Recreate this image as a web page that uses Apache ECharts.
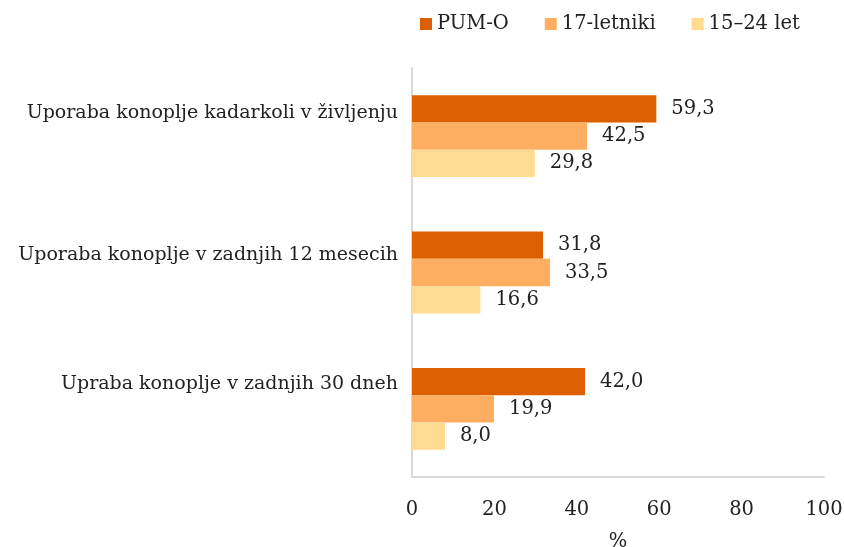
<!DOCTYPE html>
<html>
<head>
<meta charset="utf-8">
<script src="https://cdn.jsdelivr.net/npm/echarts@6/dist/echarts.min.js"></script>
<style>
  html, body { margin: 0; padding: 0; background: #fff; }
  #chart { width: 844px; height: 547px; }
</style>
</head>
<body>
<div id="chart"></div>
<script>
// Cannabis use indicators by survey group (%)
const categories = [
  'Uporaba konoplje kadarkoli v življenju',
  'Uporaba konoplje v zadnjih 12 mesecih',
  'Upraba konoplje v zadnjih 30 dneh'
];
const seriesNames = ['PUM-O', '17-letniki', '15–24 let'];
const pumO = [59.3, 31.8, 42.0];
const letniki17 = [42.5, 33.5, 19.9];
const let1524 = [29.8, 16.6, 8.0];
const xTicks = [0, 20, 40, 60, 80, 100];

const colors = ['#DC5F00', '#FDAE61', '#FEDB91'];
const FONT = 'DejaVu Serif';
const FS = 19.5;
// category labels sit beside the upper bars of each group (px raised)
const labelLift = [23, 17, 25];

const labelRich = {};
labelLift.forEach((lift, i) => {
  labelRich['c' + i] = {
    color: '#222', fontSize: 19, fontFamily: FONT,
    padding: [0, 0, lift * 2, 0]
  };
});

const chart = echarts.init(document.getElementById('chart'));

function bar(name, data, color) {
  return {
    name: name,
    type: 'bar',
    data: data,
    barGap: '0%',
    barCategoryGap: '40%',
    itemStyle: { color: color },
    label: {
      show: true,
      position: 'right',
      distance: 15,
      color: '#222',
      fontFamily: FONT,
      fontSize: FS,
      formatter: p => p.value.toFixed(1).replace('.', ',')
    }
  };
}

chart.setOption({
  animation: false,
  textStyle: { fontFamily: FONT },
  color: colors,
  legend: {
    data: seriesNames,
    top: 9,
    left: 415,
    itemWidth: 12,
    itemHeight: 12,
    itemGap: 36,
    icon: 'rect',
    textStyle: { color: '#222', fontSize: FS, fontFamily: FONT }
  },
  grid: {
    left: 412, right: 20, top: 68, bottom: 70,
    containLabel: false,
    outerBoundsMode: 'none'
  },
  xAxis: {
    type: 'value',
    min: xTicks[0],
    max: xTicks[xTicks.length - 1],
    interval: 20,
    name: '%',
    nameLocation: 'middle',
    nameGap: 55,
    nameTextStyle: { color: '#222', fontSize: FS, fontFamily: FONT },
    axisLine: { show: true, lineStyle: { color: '#d9d9d9', width: 2 } },
    axisTick: { show: false },
    splitLine: { show: false },
    axisLabel: { color: '#222', fontSize: FS, fontFamily: FONT, margin: 23 }
  },
  yAxis: {
    type: 'category',
    data: categories,
    inverse: true,
    axisLine: { show: true, lineStyle: { color: '#d9d9d9', width: 2 } },
    axisTick: { show: false },
    axisLabel: {
      color: '#222', fontSize: 19, fontFamily: FONT, margin: 14,
      formatter: (v, i) => '{c' + i + '|' + v + '}',
      rich: labelRich
    }
  },
  series: [
    bar(seriesNames[0], pumO, colors[0]),
    bar(seriesNames[1], letniki17, colors[1]),
    bar(seriesNames[2], let1524, colors[2])
  ]
});
</script>
</body>
</html>
